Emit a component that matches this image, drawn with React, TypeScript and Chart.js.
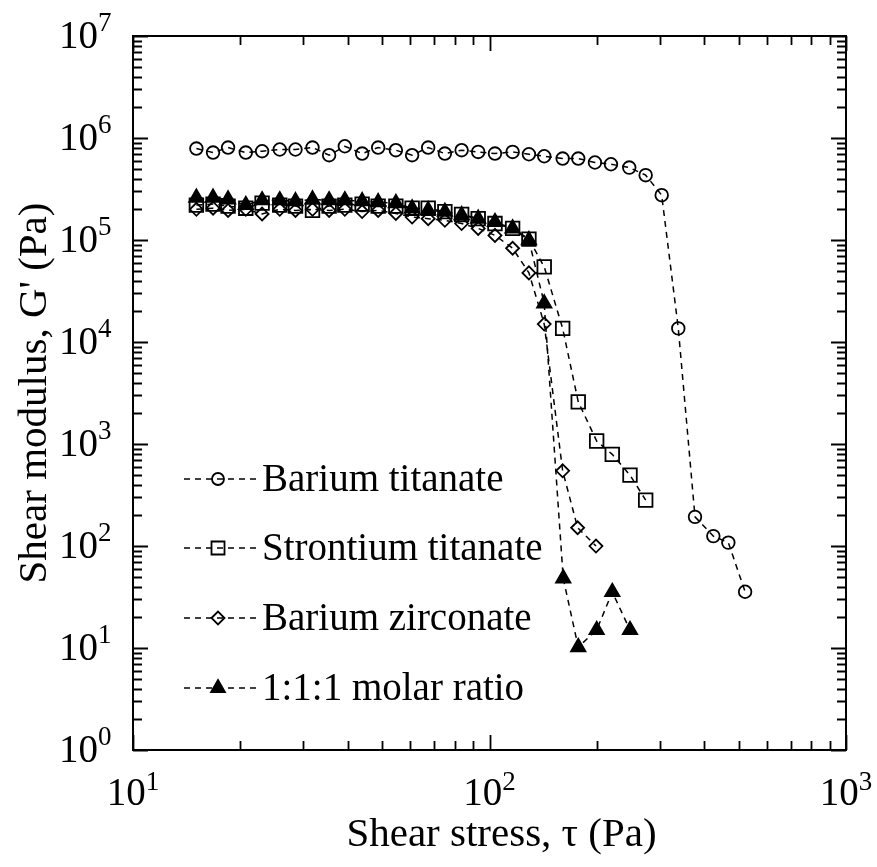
import React, { useEffect, useRef } from "react";
import { Chart, registerables } from "chart.js";

Chart.register(...registerables);

// ---- Data ----
const btX = [15.06, 16.77, 18.48, 20.72, 23.02, 25.8, 28.56, 31.88, 35.49, 39.28, 43.93, 48.72, 54.62, 60.67, 67.3, 74.96, 83.52, 92.96, 103.6, 116.1, 129.0, 142.4, 160.4, 177.4, 197.6, 219.1, 246.6, 274.2, 304.1, 338.5, 377.1, 424.5, 467.7, 521.2];
const btY = [7.88e5, 7.2e5, 8.06e5, 7.2e5, 7.42e5, 7.71e5, 7.71e5, 8.06e5, 6.78e5, 8.3e5, 7.04e5, 8.06e5, 7.59e5, 6.78e5, 8.06e5, 7.04e5, 7.59e5, 7.3e5, 7.04e5, 7.3e5, 6.93e5, 6.62e5, 6.29e5, 6.29e5, 5.75e5, 5.53e5, 5.13e5, 4.32e5, 2.75e5, 1.36e4, 193, 125, 108, 35.6];

const stX = [15.06, 16.77, 18.48, 20.72, 23.02, 25.8, 28.56, 31.88, 35.49, 39.28, 43.93, 48.72, 54.62, 60.67, 67.3, 74.96, 83.52, 92.96, 103.6, 116.1, 129.0, 142.4, 160.4, 177.4, 199.8, 221.0, 247.8, 274.2];
const stY = [2.2e5, 2.25e5, 2.15e5, 2.05e5, 2.3e5, 2.2e5, 2.15e5, 1.95e5, 2.15e5, 2.2e5, 2.25e5, 2.15e5, 2.15e5, 2.05e5, 2.05e5, 1.9e5, 1.78e5, 1.62e5, 1.45e5, 1.3e5, 1.02e5, 5.45e4, 1.36e4, 2.59e3, 1.07e3, 791, 495, 282];

const bzX = [15.06, 16.77, 18.48, 20.72, 23.02, 25.8, 28.56, 31.88, 35.49, 39.28, 43.93, 48.72, 54.62, 60.67, 67.3, 74.96, 83.52, 92.96, 103.6, 116.1, 129.0, 142.4, 160.4, 176.7, 198.9];
const bzY = [2.0e5, 2.05e5, 1.95e5, 2.0e5, 1.8e5, 2.0e5, 1.95e5, 2.0e5, 1.95e5, 2.0e5, 1.9e5, 1.95e5, 1.82e5, 1.68e5, 1.62e5, 1.56e5, 1.45e5, 1.3e5, 1.11e5, 8.3e4, 4.76e4, 1.5e4, 546, 151, 99.8];

const mxX = [15.06, 16.77, 18.48, 20.72, 23.02, 25.8, 28.56, 31.88, 35.49, 39.28, 43.93, 48.72, 54.62, 60.67, 67.3, 74.96, 83.52, 92.96, 103.6, 116.1, 129.0, 142.4, 161.0, 177.4, 199.8, 221.0, 247.8];
const mxY = [2.6e5, 2.6e5, 2.5e5, 2.2e5, 2.45e5, 2.45e5, 2.4e5, 2.5e5, 2.45e5, 2.45e5, 2.4e5, 2.35e5, 2.3e5, 2.04e5, 1.96e5, 1.89e5, 1.75e5, 1.62e5, 1.5e5, 1.3e5, 9.95e4, 2.39e4, 48.2, 10.2, 15.0, 35.4, 15.0];

const seriesLabels = ["Barium titanate", "Strontium titanate", "Barium zirconate", "1:1:1 molar ratio"];
const seriesStyles = ["circle", "rect", "rectRot", "triangle"];

const xTickExps = [1, 2, 3];
const yTickExps = [0, 1, 2, 3, 4, 5, 6, 7];
const xTitle = "Shear stress, \u03c4 (Pa)";
const yTitle = "Shear modulus, G' (Pa)";

const FONT = '"Liberation Serif", "Times New Roman", serif';

function drawMarker(ctx: CanvasRenderingContext2D, style: string, x: number, y: number) {
  ctx.beginPath();
  if (style === "circle") {
    ctx.arc(x, y, 6, 0, Math.PI * 2);
    ctx.stroke();
  } else if (style === "rect") {
    ctx.rect(x - 6.5, y - 6.5, 13, 13);
    ctx.stroke();
  } else if (style === "rectRot") {
    ctx.moveTo(x - 6.5, y);
    ctx.lineTo(x, y - 6.5);
    ctx.lineTo(x + 6.5, y);
    ctx.lineTo(x, y + 6.5);
    ctx.closePath();
    ctx.stroke();
  } else {
    const r = 8;
    ctx.moveTo(x, y - r);
    ctx.lineTo(x + r * Math.sin((2 * Math.PI) / 3), y - r * Math.cos((2 * Math.PI) / 3));
    ctx.lineTo(x + r * Math.sin((4 * Math.PI) / 3), y - r * Math.cos((4 * Math.PI) / 3));
    ctx.closePath();
    ctx.fill();
    ctx.stroke();
  }
}

const framePlugin = {
  id: "frameAxes",
  afterDraw(chart: any) {
    const { ctx, chartArea: a, scales } = chart;
    const xs = scales.x;
    const ys = scales.y;
    ctx.save();
    ctx.strokeStyle = "#000";
    ctx.fillStyle = "#000";
    ctx.setLineDash([]);

    // frame
    ctx.lineWidth = 2;
    ctx.strokeRect(a.left, a.top, a.right - a.left, a.bottom - a.top);

    // ticks (inward, mirrored)
    ctx.lineWidth = 1.8;
    const majorLen = 15;
    const minorLen = 9;
    for (let e = xTickExps[0]; e <= xTickExps[xTickExps.length - 1]; e++) {
      for (let m = 1; m <= 9; m++) {
        if (e === xTickExps[xTickExps.length - 1] && m > 1) break;
        const v = m * Math.pow(10, e);
        const px = Math.round(xs.getPixelForValue(v)) + 0.5;
        const len = m === 1 ? majorLen : minorLen;
        ctx.beginPath();
        ctx.moveTo(px, a.bottom);
        ctx.lineTo(px, a.bottom - len);
        ctx.moveTo(px, a.top);
        ctx.lineTo(px, a.top + len);
        ctx.stroke();
      }
    }
    for (let e = yTickExps[0]; e <= yTickExps[yTickExps.length - 1]; e++) {
      for (let m = 1; m <= 9; m++) {
        if (e === yTickExps[yTickExps.length - 1] && m > 1) break;
        const v = m * Math.pow(10, e);
        const py = Math.round(ys.getPixelForValue(v)) + 0.5;
        const len = m === 1 ? majorLen : minorLen;
        ctx.beginPath();
        ctx.moveTo(a.left, py);
        ctx.lineTo(a.left + len, py);
        ctx.moveTo(a.right, py);
        ctx.lineTo(a.right - len, py);
        ctx.stroke();
      }
    }

    // tick labels
    const mainFont = `39px ${FONT}`;
    const supFont = `27px ${FONT}`;
    ctx.textBaseline = "alphabetic";
    for (const e of xTickExps) {
      const px = xs.getPixelForValue(Math.pow(10, e));
      ctx.font = mainFont;
      const w1 = ctx.measureText("10").width;
      ctx.font = supFont;
      const w2 = ctx.measureText(String(e)).width;
      const start = px - (w1 + w2) / 2;
      ctx.textAlign = "left";
      ctx.font = mainFont;
      ctx.fillText("10", start, a.bottom + 55);
      ctx.font = supFont;
      ctx.fillText(String(e), start + w1, a.bottom + 40);
    }
    for (const e of yTickExps) {
      const py = ys.getPixelForValue(Math.pow(10, e));
      ctx.font = mainFont;
      ctx.textAlign = "right";
      ctx.fillText("10", 98, py + 12);
      ctx.font = supFont;
      ctx.textAlign = "left";
      ctx.fillText(String(e), 98, py - 5);
    }

    // axis titles
    ctx.font = `41px ${FONT}`;
    ctx.textAlign = "center";
    ctx.textBaseline = "middle";
    ctx.fillText(xTitle, (a.left + a.right) / 2 + 12, 835);
    ctx.save();
    ctx.translate(35, (a.top + a.bottom) / 2);
    ctx.rotate(-Math.PI / 2);
    ctx.fillText(yTitle, 0, 0);
    ctx.restore();

    // legend
    const rows = [479, 548, 618, 688];
    ctx.font = `39px ${FONT}`;
    ctx.textAlign = "left";
    ctx.textBaseline = "middle";
    seriesLabels.forEach((label, i) => {
      const y = rows[i];
      ctx.lineWidth = 1.5;
      ctx.setLineDash([6, 5]);
      ctx.beginPath();
      ctx.moveTo(184, y);
      ctx.lineTo(256, y);
      ctx.stroke();
      ctx.setLineDash([]);
      ctx.lineWidth = 1.8;
      drawMarker(ctx, seriesStyles[i], 218, y);
      ctx.fillText(label, 262, y + 2);
    });

    ctx.restore();
  },
};

function toPoints(xArr: number[], yArr: number[]) {
  return xArr.map((x, i) => ({ x, y: yArr[i] }));
}

export default function App() {
  const canvasRef = useRef<HTMLCanvasElement | null>(null);

  useEffect(() => {
    if (!canvasRef.current) return;
    const common = {
      borderColor: "#000",
      borderWidth: 1.5,
      borderDash: [6, 5],
      pointBorderColor: "#000",
      pointBorderWidth: 1.8,
      showLine: true,
      tension: 0,
      fill: false,
    };
    const chart = new Chart(canvasRef.current, {
      type: "line",
      data: {
        datasets: [
          {
            ...common,
            label: seriesLabels[0],
            data: toPoints(btX, btY),
            pointStyle: "circle",
            pointRadius: 6.3,
            pointBackgroundColor: "rgba(0,0,0,0)",
          },
          {
            ...common,
            label: seriesLabels[1],
            data: toPoints(stX, stY),
            pointStyle: "rect",
            pointRadius: 9.6,
            pointBackgroundColor: "rgba(0,0,0,0)",
          },
          {
            ...common,
            label: seriesLabels[2],
            data: toPoints(bzX, bzY),
            pointStyle: "rectRot",
            pointRadius: 6.5,
            pointBackgroundColor: "rgba(0,0,0,0)",
          },
          {
            ...common,
            label: seriesLabels[3],
            data: toPoints(mxX, mxY),
            pointStyle: "triangle",
            pointRadius: 8.3,
            pointBackgroundColor: "#000",
          },
        ],
      } as any,
      options: {
        responsive: false,
        animation: false,
        devicePixelRatio: 1,
        parsing: true,
        layout: { padding: { left: 133, top: 36, right: 31, bottom: 117 } },
        plugins: { legend: { display: false }, tooltip: { enabled: false } },
        scales: {
          x: { type: "logarithmic", min: 10, max: 1000, display: false },
          y: { type: "logarithmic", min: 1, max: 1e7, display: false },
        },
      } as any,
      plugins: [framePlugin],
    });
    return () => chart.destroy();
  }, []);

  return (
    <div style={{ position: "fixed", left: 0, top: 0, width: 877, height: 867, background: "#fff" }}>
      <canvas ref={canvasRef} width={877} height={867} style={{ width: 877, height: 867 }} />
    </div>
  );
}
